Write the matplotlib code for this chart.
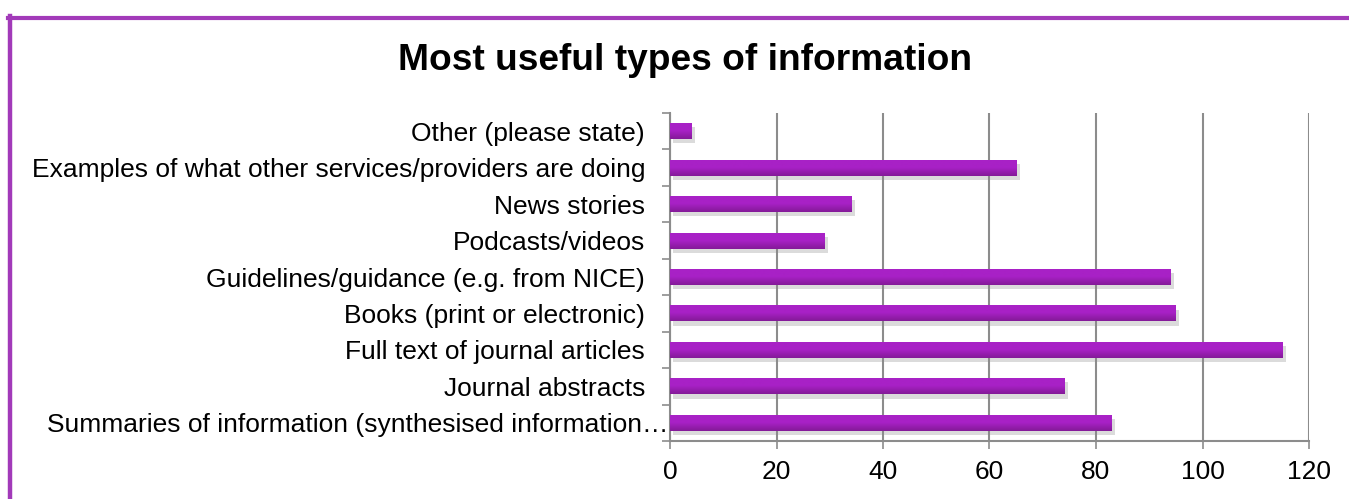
import numpy as np
import matplotlib.pyplot as plt
import matplotlib.patheffects as pe
from matplotlib.lines import Line2D
from matplotlib.transforms import ScaledTranslation

plt.rcParams['font.family'] = ['Liberation Sans', 'DejaVu Sans']

# survey responses, listed top to bottom
categories = [
    "Other (please state)",
    "Examples of what other services/providers are doing",
    "News stories",
    "Podcasts/videos",
    "Guidelines/guidance (e.g. from NICE)",
    "Books (print or electronic)",
    "Full text of journal articles",
    "Journal abstracts",
    "Summaries of information (synthesised information\u2026",
]
counts = [4, 65, 34, 29, 94, 95, 115, 74, 83]
x_ticks = [0, 20, 40, 60, 80, 100, 120]

grid_grey = '#8c8c8c'
purple_top = '#a821c6'
purple_bottom = '#841a98'

fig = plt.figure(figsize=(13.49, 4.99), dpi=100)
ax = fig.add_axes([670 / 1349, 1 - 441 / 499, 639 / 1349, 328 / 499])

y = np.arange(len(categories))
bars = ax.barh(y, counts, height=0.44, color=purple_top, zorder=3,
               path_effects=[pe.SimplePatchShadow(offset=(2.5, -3), shadow_rgbFace='#8a8a8a', alpha=0.3),
                             pe.Normal()])

# vertical gradient on each bar
grad = np.linspace(0, 1, 64).reshape(-1, 1)
cmap = plt.matplotlib.colors.LinearSegmentedColormap.from_list('bar', [purple_top, purple_top, purple_bottom])
for b in bars:
    x0, y0 = b.get_x(), b.get_y()
    im = ax.imshow(grad, cmap=cmap, aspect='auto', zorder=4,
                   extent=[x0, x0 + b.get_width(), y0 + b.get_height(), y0])
    im.set_clip_path(b)

ax.set_xlim(0, 120)
ax.set_ylim(len(categories) - 0.5, -0.5)
ax.set_xticks(x_ticks)
ax.set_yticks(y)
ax.set_yticklabels(categories, fontsize=19, color='#000000')
ax.set_yticks(np.arange(-0.5, len(categories)), minor=True)
ax.tick_params(axis='y', which='major', length=0, pad=18)
ax.tick_params(axis='y', which='minor', length=5.5, width=1.2, color=grid_grey, direction='out')
ax.tick_params(axis='x', length=5.5, width=1.2, color=grid_grey, labelsize=19, pad=8, labelcolor='#000000')

ax.grid(axis='x', color=grid_grey, linewidth=1.5, zorder=0)
ax.set_axisbelow(True)
for side in ['top', 'right']:
    ax.spines[side].set_visible(False)
for side in ['left', 'bottom']:
    ax.spines[side].set_color(grid_grey)
    ax.spines[side].set_linewidth(1.5)

# the truncated last label runs closer to the axis
last = ax.get_yticklabels()[-1]
last.set_transform(last.get_transform() + ScaledTranslation(23 / 100, 0, fig.dpi_scale_trans))

fig.text(685 / 1349, 1 - 60 / 499, "Most useful types of information",
         ha='center', va='center', fontsize=26.7, fontweight='bold', color='#000000')

# chart frame edges
fig.add_artist(Line2D([8 / 1349, 1], [1 - 17.5 / 499, 1 - 17.5 / 499], transform=fig.transFigure,
                      color='#a23ab9', linewidth=3))
fig.add_artist(Line2D([10 / 1349, 10 / 1349], [0, 1 - 16 / 499], transform=fig.transFigure,
                      color='#a23ab9', linewidth=3.2))

fig.savefig('out.png', dpi=100)
